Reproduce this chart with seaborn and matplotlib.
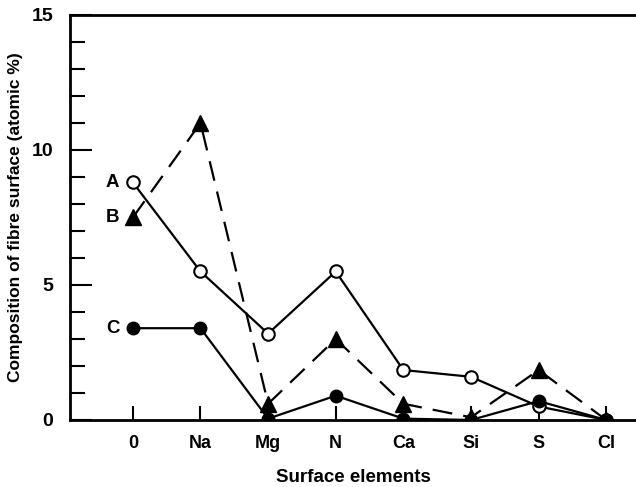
import matplotlib
matplotlib.use("Agg")
import matplotlib.pyplot as plt
import seaborn as sns
import pandas as pd
import numpy as np

elements = ["O", "Na", "Mg", "N", "Ca", "Si", "S", "Cl"]
series_a = [8.8, 5.5, 3.2, 5.5, 1.85, 1.6, 0.5, 0.0]
series_b = [7.5, 11.0, 0.6, 3.0, 0.6, 0.1, 1.85, 0.0]
series_c = [3.4, 3.4, 0.05, 0.9, 0.05, 0.0, 0.7, 0.0]
series_names = ["A", "B", "C"]
y_ticks = [0, 5, 10, 15]
x_tick_labels = ["0", "Na", "Mg", "N", "Ca", "Si", "S", "Cl"]

sns.set_theme(style="white")
plt.rcParams["font.family"] = ["Liberation Sans", "DejaVu Sans"]
plt.rcParams["font.weight"] = "bold"
plt.rcParams["text.color"] = "black"
plt.rcParams["axes.labelcolor"] = "black"
plt.rcParams["xtick.color"] = "black"
plt.rcParams["ytick.color"] = "black"

fig = plt.figure(figsize=(6.36, 4.87), dpi=100)
ax = fig.add_axes([0.110, 0.1376, 0.89, 0.8316])

pos = list(range(len(elements)))
df = pd.DataFrame({"pos": pos * 3,
                   "value": series_a + series_b + series_c,
                   "series": ["A"] * 8 + ["B"] * 8 + ["C"] * 8})

styles = {
    "A": dict(marker="o", markerfacecolor="white", markeredgecolor="black", markersize=9,
              markeredgewidth=1.5, linestyle="-", z=2),
    "B": dict(marker="^", markerfacecolor="black", markeredgecolor="black", markersize=11,
              markeredgewidth=1.0, linestyle=(0, (9, 5)), z=3),
    "C": dict(marker="o", markerfacecolor="black", markeredgecolor="black", markersize=9,
              markeredgewidth=1.0, linestyle="-", z=4),
}
for name in ["A", "B", "C"]:
    sub = df[df["series"] == name]
    st = styles[name]
    sns.lineplot(data=sub, x="pos", y="value", ax=ax, color="black", linewidth=1.6,
                 marker=st["marker"], markersize=st["markersize"],
                 markerfacecolor=st["markerfacecolor"], markeredgecolor=st["markeredgecolor"],
                 markeredgewidth=st["markeredgewidth"], linestyle=st["linestyle"],
                 legend=False, zorder=st["z"])

for name, vals in zip(series_names, [series_a, series_b, series_c]):
    ax.text(-0.3, vals[0], name, ha="center", va="center", fontsize=13.5,
            fontweight="bold", color="black")

ax.set_xlim(-0.93, 7.44)
ax.set_ylim(0, 15)
ax.set_xticks(pos)
ax.set_xticklabels(x_tick_labels, fontsize=13, fontweight="bold")
ax.set_yticks(y_ticks)
ax.set_yticklabels([str(t) for t in y_ticks], fontsize=14, fontweight="bold")
ax.set_yticks(np.arange(0, 16, 1), minor=True)

ax.tick_params(axis="x", which="major", direction="in", length=10, width=1.5, pad=11,
               bottom=True, colors="black")
ax.tick_params(axis="y", which="major", direction="in", length=16, width=1.5, pad=12,
               left=True, colors="black")
ax.tick_params(axis="y", which="minor", direction="in", length=11, width=1.5, left=True)

for s in ["left", "bottom", "top"]:
    ax.spines[s].set_visible(True)
    ax.spines[s].set_color("black")
    ax.spines[s].set_linewidth(2.0)
ax.spines["right"].set_visible(False)

ax.set_xlabel("Surface elements", fontsize=13.5, fontweight="bold", labelpad=12, color="black")
ax.set_ylabel("Composition of fibre surface (atomic %)", fontsize=12.5, fontweight="bold",
              labelpad=6, color="black")

fig.savefig("out.png", dpi=100)
